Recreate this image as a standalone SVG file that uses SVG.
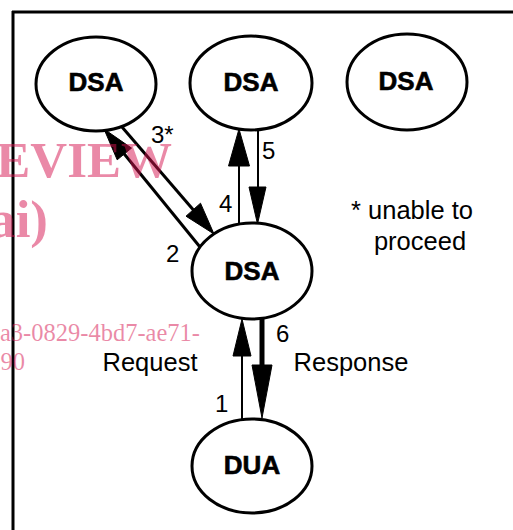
<svg xmlns="http://www.w3.org/2000/svg" width="513" height="530" viewBox="0 0 513 530">
<style>
.node ellipse{fill:#fff;stroke:#000;stroke-width:3}
.node text{font-family:"Liberation Sans",Arial,sans-serif;font-weight:bold;font-size:26px;text-anchor:middle;fill:#000;stroke:#000;stroke-width:0.6}
.lbl{font-family:"Liberation Sans",Arial,sans-serif;font-size:25.5px;fill:#000;text-anchor:middle}
.num{font-family:"Liberation Sans",Arial,sans-serif;font-size:24px;fill:#000}
.wm{font-family:"Liberation Serif","Times New Roman",serif;fill:#d61450;fill-opacity:0.5;text-anchor:end}
.ln{stroke:#000;fill:none}
.hd{fill:#000;stroke:#000;stroke-width:1;stroke-linejoin:miter}
</style>
<rect width="513" height="530" fill="#fff"/>
<g id="frame" stroke="#000" stroke-width="3" fill="none">
<line x1="12" y1="12" x2="513" y2="12"/>
<line x1="13" y1="11" x2="13" y2="530"/>
</g>
<g id="connectors">
<line class="ln" stroke-width="3" x1="122" y1="127" x2="196" y2="213"/>
<polygon class="hd" points="214,234 200.5,203.2 186,216.2"/>
<line class="ln" stroke-width="3" x1="200" y1="247" x2="121" y2="150"/>
<polygon class="hd" points="104,129 131.5,148.1 117.2,159.8"/>
<line class="ln" stroke-width="2" x1="239" y1="224" x2="239" y2="160"/>
<polygon class="hd" points="239,129 228.5,166 249.5,166"/>
<line class="ln" stroke-width="2" x1="258" y1="129" x2="258" y2="192"/>
<polygon class="hd" points="257.5,224 249,187 266,187"/>
<line class="ln" stroke-width="2" x1="242" y1="419" x2="242" y2="350"/>
<polygon class="hd" points="242,319 233,356 251,356"/>
<line class="ln" stroke-width="5" x1="262" y1="318" x2="262" y2="370"/>
<polygon class="hd" points="262,418 252,365 272,365"/>
</g>
<g id="dsa-top-left" class="node"><ellipse cx="96" cy="84" rx="60" ry="47"/><text x="96" y="91">DSA</text></g>
<g id="dsa-top-mid" class="node"><ellipse cx="251" cy="83" rx="61" ry="47"/><text x="251" y="91">DSA</text></g>
<g id="dsa-top-right" class="node"><ellipse cx="407" cy="82" rx="60" ry="48"/><text x="406" y="90">DSA</text></g>
<g id="dsa-mid" class="node"><ellipse cx="252" cy="271" rx="60" ry="48"/><text x="252" y="280">DSA</text></g>
<g id="dua" class="node"><ellipse cx="252" cy="466" rx="60" ry="47"/><text x="252" y="474">DUA</text></g>
<g id="labels">
<text class="num" x="151" y="143">3*</text>
<text class="num" x="262" y="159">5</text>
<text class="num" x="219" y="212">4</text>
<text class="num" x="166" y="262">2</text>
<text class="num" x="276" y="342">6</text>
<text class="num" x="215" y="412">1</text>
<text class="lbl" x="150" y="371">Request</text>
<text class="lbl" x="351" y="371">Response</text>
<text class="lbl" x="412" y="219">* unable to</text>
<text class="lbl" x="420" y="250">proceed</text>
</g>
<g id="watermark">
<text class="wm" x="172" y="177" font-size="51" font-weight="bold">EVIEW</text>
<text class="wm" x="48" y="237" font-size="53" font-weight="bold">ai)</text>
<text class="wm" x="200" y="341" font-size="24.5">a3-0829-4bd7-ae71-</text>
<text class="wm" x="25" y="370" font-size="24.5">90</text>
</g>
</svg>
